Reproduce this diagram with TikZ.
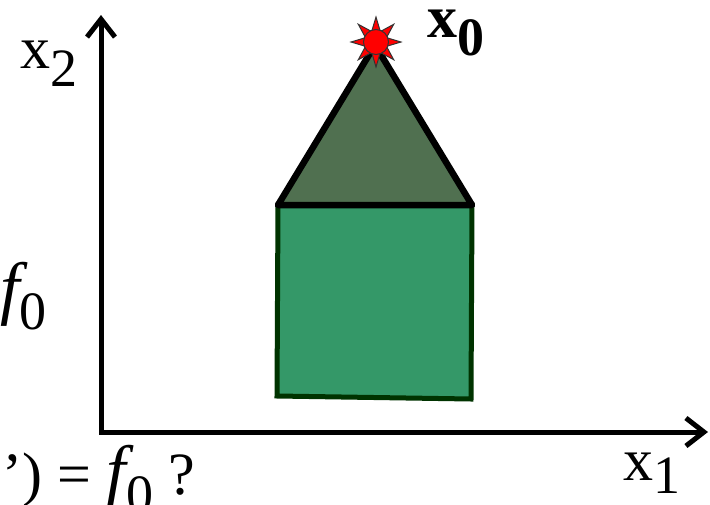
\documentclass[tikz,border=0pt]{standalone}
\usepackage{fontspec}
\setmainfont{Liberation Serif}
\usetikzlibrary{arrows.meta,positioning,calc}

\definecolor{roofgreen}{RGB}{80,112,80}
\definecolor{wallgreen}{RGB}{52,152,104}
\definecolor{walledge}{RGB}{0,51,0}

\tikzset{
  axis/.style={line width=5pt,line join=miter,
    {Straight Barb[length=18pt,width=28pt,line width=5pt]}-{Straight Barb[length=18pt,width=28pt,line width=5pt]}},
  axislabel/.style={inner sep=0pt,font=\fontsize{60}{60}\selectfont},
  spike/.style={fill=red,draw=black!80,line width=1pt,line join=miter},
}
\newcommand{\lowsub}[1]{\raisebox{-0.3em}{\fontsize{54}{54}\selectfont #1}}
\newcommand{\bigf}{{\fontsize{70}{70}\selectfont\itshape f}}

\begin{document}
\begin{tikzpicture}[x=1pt,y=-1pt]
    \useasboundingbox (0,0) rectangle (710,504);

    % Axes
    \coordinate (origin) at (101,432);
    \coordinate (ytip) at (101,15);
    \coordinate (xtip) at (708,432);
    \draw[axis] (ytip) -- (origin) -- (xtip);

    % Axis labels
    \node[axislabel,anchor=base west] (xtwo) at (20,68) {x\lowsub{2}};
    \node[axislabel,anchor=base west] (xone) at (623,480) {x\raisebox{-0.22em}{\fontsize{54}{54}\selectfont 1}};
    \node[axislabel,anchor=base west] (fzero) at (0,311) {\bigf\lowsub{0}};
    \node[axislabel,anchor=base east] (query) at (195,494) {'){ }= \bigf\lowsub{0} ?};

    % Wall and roof
    \filldraw[fill=wallgreen,draw=walledge,line width=5pt]
        (278,205) -- (472,205) -- (471,399) -- (277,396) -- cycle;
    \filldraw[fill=roofgreen,draw=black,line width=6.5pt,line join=round]
        (278,205) -- (375,45) -- (472,205) -- cycle;

    % Optimum marker
    \coordinate (star) at (376,42);
    \foreach \a in {0,45,...,315}
        \draw[spike] ($(star)+(\a-20:12)$) -- ($(star)+(\a:25)$) -- ($(star)+(\a+20:12)$) -- cycle;
    \filldraw[fill=red,draw=black!80,line width=1pt] (star) circle (12.5);

    \node[axislabel,anchor=base west] (xzero) at (427,37) {\textbf{x}\lowsub{\textbf{0}}};
\end{tikzpicture}
\end{document}
